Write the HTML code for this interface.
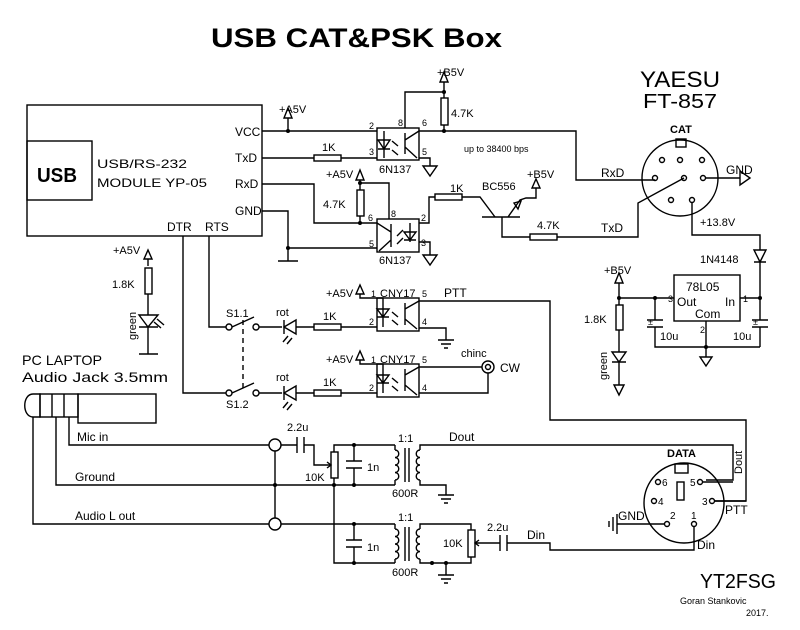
<!DOCTYPE html>
<html><head><meta charset="utf-8"><style>
html,body{margin:0;padding:0;background:#fff}
svg{display:block}
text{font-family:"Liberation Sans",sans-serif;fill:#000}
</style></head><body>
<svg width="800" height="630" viewBox="0 0 800 630" xmlns="http://www.w3.org/2000/svg">
<g fill="none" stroke="#000" stroke-width="1.4">
<!-- module -->
<rect x="27" y="105" width="235" height="131"/>
<rect x="27" y="141" width="65" height="59"/>
<path d="M262 131H377"/>
<path d="M288 131V118M284 118L288 108L292 118Z"/>
<!-- opto1 -->
<rect x="377" y="128" width="42" height="32"/>
<path d="M405 128V92H444V98M444 125V131M444 92V82M440 82L444 72L448 82Z"/>
<rect x="441" y="98" width="7" height="27"/>
<path d="M419 131H576V180H655"/>
<path d="M262 158H314M341 158H377"/>
<rect x="314" y="155" width="27" height="6"/>
<path d="M384 131V158"/>
<path d="M378 140H390L384 149ZM378 149H390"/>
<path d="M405 133V154M405 140L419 131M405 147L417 158"/>
<path d="M392 141L398 146M392 150L398 155"/>
<path d="M419 158H430V166M423 166H437L430 176Z"/>
<!-- RxD path / opto2 -->
<path d="M262 184H314V223H377"/>
<rect x="377" y="219" width="42" height="33"/>
<path d="M360 223V216M360 190V183H389V219M360 183V180M356 180L360 170L364 180Z"/>
<rect x="357" y="190" width="7" height="26"/>
<path d="M262 211H288V261M278 261H298"/>
<path d="M288 248H377"/>
<path d="M391 224V247M391 232L377 223M391 240L379 251"/>
<path d="M410 223V242M404 232H416L410 240ZM404 240H416"/>
<path d="M403 230L397 236M403 238L397 244"/>
<path d="M419 223H429V197H435M462 197H480L495 217"/>
<rect x="435" y="194" width="27" height="6"/>
<path d="M419 242H430V255M423 255H437L430 265Z"/>
<!-- BC556 -->
<path d="M482 217H520M508 217L520 200L526 198H536V188M532 188L536 179L540 188Z"/>
<path d="M514 203L521 201L518 209Z"/>
<path d="M502 217V237H530M557 237H638V203L684 178"/>
<rect x="530" y="234" width="27" height="6"/>
<!-- CAT DIN -->
<circle cx="680" cy="178" r="38"/>
<rect x="676" y="139" width="10" height="8"/>
<circle cx="662" cy="160" r="2.5"/><circle cx="680" cy="160" r="2.5"/><circle cx="702" cy="160" r="2.5"/>
<circle cx="655" cy="178" r="2.5"/><circle cx="684" cy="178" r="2.5"/><circle cx="703" cy="178" r="2.5"/>
<circle cx="671" cy="200" r="2.5"/><circle cx="692" cy="200" r="2.5"/>
<path d="M706 178H740M740 171L750 178L740 185Z"/>
<path d="M692 203V235H760V250M754 250H766L760 262ZM754 262H766M760 262V320M760 327V347"/>
<!-- 78L05 -->
<rect x="674" y="275" width="66" height="46"/>
<path d="M674 298H619M619 298V283M615 283L619 273L623 283Z"/>
<path d="M740 298H760"/>
<path d="M655 298V320M647 320H663M647 327H663M655 327V347H760M706 321V357M700 357H712L706 366Z"/>
<path d="M752 320H768M752 327H768"/>
<path d="M619 298V305M619 330V352M612 352H626L619 362ZM612 362H626M619 362V385M614 385H624L619 395Z"/>
<rect x="616" y="305" width="7" height="25"/>
<!-- upper-left LED -->
<path d="M148 266V259M144 259L148 250L152 259Z"/>
<rect x="145" y="268" width="7" height="26"/>
<path d="M148 294V315M139 315H158L148 327ZM139 327H158M148 327V354M139 354H158"/>
<path d="M154 322L161 328M157 319L164 325"/>
<!-- DTR / RTS -->
<path d="M183 236V393H226M209 236V327H226"/>
<circle cx="229" cy="327" r="3"/><circle cx="256" cy="327" r="3"/>
<path d="M232 327L254 317M259 327H282"/>
<circle cx="229" cy="393" r="3"/><circle cx="256" cy="393" r="3"/>
<path d="M232 393L254 383M259 393H282"/>
<path d="M243 320V390" stroke-dasharray="5 4"/>
<path d="M284 327L296 320V334ZM284 320V334M296 327H314M341 327H377"/>
<path d="M284 393L296 386V400ZM284 386V400M296 393H314M341 393H377"/>
<path d="M288 336L283 342M292 338L287 344M288 402L283 408M292 404L287 410"/>
<rect x="314" y="324" width="27" height="6"/>
<rect x="314" y="390" width="27" height="6"/>
<!-- opto3/4 -->
<rect x="377" y="298" width="42" height="33"/>
<rect x="377" y="364" width="42" height="33"/>
<path d="M360 294V298H383V302M356 294L360 285L364 294Z"/>
<path d="M360 360V364H383V368M356 360L360 351L364 360Z"/>
<path d="M383 302V327M377 309H389L383 317ZM377 317H389"/>
<path d="M383 368V393M377 375H389L383 383ZM377 383H389"/>
<path d="M405 303V325M405 309L419 301M405 319L417 329M405 369V391M405 375L419 367M405 385L417 395"/>
<path d="M392 312L398 317M392 320L398 325M392 378L398 383M392 386L398 391"/>
<path d="M419 301H550V420H746V501H715"/>
<path d="M419 328H446V340M438 340H454M441 344H451M444 348H448"/>
<path d="M419 367H482M419 393H488V373"/>
<circle cx="488" cy="367" r="6"/><circle cx="488" cy="367" r="2.5"/>
<!-- jack -->
<path d="M33 394C22 394 22 417 33 417H40V394Z"/>
<rect x="40" y="394" width="38" height="23"/>
<path d="M52 394V417M64 394V417"/>
<rect x="78" y="394" width="78" height="29"/>
<path d="M33 417V524H269M56 417V485H334M69 417V445H269"/>
<circle cx="275" cy="445" r="6"/><circle cx="275" cy="524" r="6"/>
<path d="M275 451V518"/>
<path d="M281 445H297M297 437V453M304 437V453M304 445H314V465H330"/>
<path d="M327 462L331 465L327 468"/>
<rect x="331" y="452" width="7" height="26"/>
<path d="M334 452V445H395M334 478V563H395M334 485H395"/>
<path d="M354 445V461M346 461H362M346 468H362M354 468V485"/>
<path d="M354 524V540M346 540H362M346 547H362M354 547V563"/>
<path d="M281 524H395"/>
<!-- transformers -->
<path d="M395 445V450M395 480V485M395 450c5 0 5 7.5 0 7.5c5 0 5 7.5 0 7.5c5 0 5 7.5 0 7.5c5 0 5 7.5 0 7.5"/>
<path d="M405 448V482M409 448V482"/>
<path d="M420 450c-5 0-5 7.5 0 7.5c-5 0-5 7.5 0 7.5c-5 0-5 7.5 0 7.5c-5 0-5 7.5 0 7.5M420 450V445H733V480H706M420 480V485H446V495M438 495H454M441 499H451M444 503H448"/>
<path d="M395 524V529M395 559V563M395 529c5 0 5 7.5 0 7.5c5 0 5 7.5 0 7.5c5 0 5 7.5 0 7.5c5 0 5 7.5 0 7.5"/>
<path d="M405 527V561M409 527V561"/>
<path d="M420 529c-5 0-5 7.5 0 7.5c-5 0-5 7.5 0 7.5c-5 0-5 7.5 0 7.5c-5 0-5 7.5 0 7.5M420 529V524H471V530M420 559V563H471V557M446 563V575M438 575H454M441 579H451M444 583H448"/>
<rect x="468" y="530" width="7" height="27"/>
<path d="M476 543H500M500 535V551M507 535V551M507 543H550V550H694V527M479 540L475 543L479 546"/>
<!-- DATA DIN -->
<circle cx="684" cy="503" r="40"/>
<rect x="675" y="464" width="13" height="9"/>
<rect x="677" y="482" width="7" height="18"/>
<circle cx="700" cy="482" r="2.5"/><circle cx="712" cy="501" r="2.5"/>
<circle cx="667" cy="524" r="2.5"/><circle cx="694" cy="524" r="2.5"/>
<circle cx="658" cy="482" r="2.5"/><circle cx="654" cy="501" r="2.5"/>
<path d="M703 482H733M715 501H746M664 524H617M617 514V534M613 517V531M609 521V527"/>
</g>
<g fill="#000">
<circle cx="288" cy="131" r="2"/><circle cx="444" cy="92" r="2"/><circle cx="444" cy="131" r="2"/>
<circle cx="360" cy="183" r="2"/><circle cx="360" cy="223" r="2"/><circle cx="288" cy="248" r="2"/>
<circle cx="655" cy="298" r="2"/><circle cx="760" cy="298" r="2"/><circle cx="706" cy="347" r="2"/><circle cx="619" cy="298" r="2"/>
<circle cx="275" cy="485" r="2"/><circle cx="334" cy="485" r="2"/><circle cx="354" cy="445" r="2"/><circle cx="354" cy="485" r="2"/>
<circle cx="354" cy="524" r="2"/><circle cx="354" cy="563" r="2"/><circle cx="432" cy="563" r="2"/><circle cx="446" cy="563" r="2"/>
</g>
<text x="211" y="47" font-size="27" font-weight="bold" textLength="291" lengthAdjust="spacingAndGlyphs">USB CAT&amp;PSK Box</text>
<text x="640" y="87" font-size="22" textLength="80" lengthAdjust="spacingAndGlyphs">YAESU</text>
<text x="643" y="108" font-size="20" textLength="74" lengthAdjust="spacingAndGlyphs">FT-857</text>
<text x="37" y="182" font-size="20" font-weight="bold" textLength="40" lengthAdjust="spacingAndGlyphs">USB</text>
<g font-size="12">
<text x="97" y="168" textLength="90" lengthAdjust="spacingAndGlyphs">USB/RS-232</text>
<text x="97" y="187" textLength="110" lengthAdjust="spacingAndGlyphs">MODULE YP-05</text>
<text x="235" y="136">VCC</text><text x="235" y="162">TxD</text><text x="235" y="188">RxD</text><text x="235" y="215">GND</text>
<text x="167" y="231">DTR</text><text x="205" y="231">RTS</text>
<text x="22" y="365" font-size="14" textLength="80" lengthAdjust="spacingAndGlyphs">PC LAPTOP</text>
<text x="22" y="382" font-size="14" textLength="146" lengthAdjust="spacingAndGlyphs">Audio Jack 3.5mm</text>
<text x="77" y="441">Mic in</text><text x="75" y="481">Ground</text><text x="75" y="520">Audio L out</text>
<text x="449" y="441">Dout</text><text x="527" y="539">Din</text><text x="697" y="549">Din</text>
<text x="601" y="232">TxD</text><text x="601" y="177">RxD</text><text x="726" y="174">GND</text>
<text x="444" y="297">PTT</text><text x="725" y="514">PTT</text><text x="500" y="372">CW</text>
<text x="686" y="291">78L05</text><text x="677" y="306">Out</text><text x="725" y="306">In</text><text x="695" y="318">Com</text>
<text x="700" y="588" font-size="20" textLength="76" lengthAdjust="spacingAndGlyphs">YT2FSG</text>
<text x="618" y="520">GND</text>
</g>
<g font-size="11">
<text x="279" y="113">+A5V</text><text x="437" y="76">+B5V</text><text x="451" y="117">4.7K</text>
<text x="322" y="151">1K</text><text x="379" y="173">6N137</text><text x="379" y="264">6N137</text>
<text x="326" y="178">+A5V</text><text x="323" y="208">4.7K</text><text x="450" y="192">1K</text>
<text x="482" y="190">BC556</text><text x="527" y="178">+B5V</text><text x="537" y="229">4.7K</text>
<text x="670" y="133" font-weight="bold">CAT</text><text x="700" y="226">+13.8V</text><text x="700" y="263">1N4148</text>
<text x="604" y="274">+B5V</text><text x="584" y="323">1.8K</text><text x="660" y="340">10u</text><text x="733" y="340">10u</text>
<text x="113" y="254">+A5V</text><text x="112" y="288">1.8K</text>
<text x="226" y="317">S1.1</text><text x="226" y="408">S1.2</text><text x="276" y="316">rot</text><text x="276" y="381">rot</text>
<text x="323" y="320">1K</text><text x="323" y="386">1K</text>
<text x="326" y="297">+A5V</text><text x="326" y="363">+A5V</text><text x="380" y="297">CNY17</text><text x="380" y="363">CNY17</text>
<text x="461" y="357">chinc</text><text x="287" y="431">2.2u</text><text x="305" y="481">10K</text><text x="367" y="471">1n</text>
<text x="398" y="442">1:1</text><text x="392" y="497">600R</text><text x="367" y="551">1n</text><text x="398" y="521">1:1</text><text x="392" y="576">600R</text>
<text x="443" y="547">10K</text><text x="487" y="531">2.2u</text>
<text x="667" y="457" font-weight="bold">DATA</text>
<text x="662" y="486" font-size="10">6</text><text x="690" y="486" font-size="10">5</text><text x="658" y="505" font-size="10">4</text><text x="702" y="505" font-size="10">3</text>
<text x="670" y="519" font-size="10">2</text><text x="691" y="519" font-size="10">1</text>
<text x="680" y="604" font-size="9">Goran Stankovic</text><text x="746" y="616" font-size="9">2017.</text>
<text x="464" y="152" font-size="9">up to 38400 bps</text>
</g>
<g font-size="9">
<text x="369" y="129">2</text><text x="398" y="126">8</text><text x="422" y="126">6</text><text x="369" y="155">3</text><text x="422" y="155">5</text>
<text x="368" y="221">6</text><text x="391" y="217">8</text><text x="421" y="221">2</text><text x="369" y="247">5</text><text x="421" y="246">3</text>
<text x="668" y="302">3</text><text x="743" y="302">1</text><text x="700" y="333">2</text>
<text x="371" y="297">1</text><text x="422" y="297">5</text><text x="369" y="325">2</text><text x="422" y="325">4</text>
<text x="371" y="363">1</text><text x="422" y="363">5</text><text x="369" y="391">2</text><text x="422" y="391">4</text>
<text x="648" y="325">±</text><text x="753" y="325">±</text>
</g>
<text transform="translate(136,340) rotate(-90)" font-size="11">green</text>
<text transform="translate(607,380) rotate(-90)" font-size="11">green</text>
<text transform="translate(742,474) rotate(-90)" font-size="11">Dout</text>
</svg>
</body></html>
